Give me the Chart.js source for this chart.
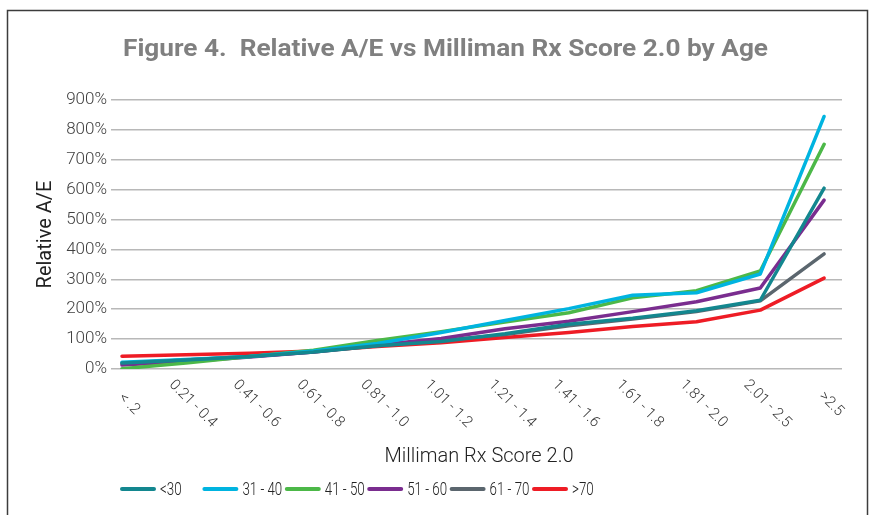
<!DOCTYPE html>
<html>
  <head>
    <title>Relative A/E vs Milliman Rx Score 2.0 by Age</title>
    <script src="https://cdn.jsdelivr.net/npm/chart.js@4.4.1/dist/chart.umd.min.js"></script>
    <style>
      html, body {
        margin: 0;
        padding: 0;
        background: #ffffff;
      }
      #wrap {
        position: relative;
        width: 873px;
        height: 515px;
      }
    </style>
  </head>
  <body>
    <div id="wrap">
      <canvas id="chart" width="873" height="515"></canvas>
    </div>

    <script>
      const categories = [
        "< .2", "0.21 - 0.4", "0.41 - 0.6", "0.61 - 0.8", "0.81 - 1.0", "1.01 - 1.2",
        "1.21 - 1.4", "1.41 - 1.6", "1.61 - 1.8", "1.81 - 2.0", "2.01 - 2.5", ">2.5"
      ];
      const seriesNames = ["<30", "31 - 40", "41 - 50", "51 - 60", "61 - 70", ">70"];
      const seriesColors = ["#13878f", "#00b4e0", "#4cb848", "#7a2d8f", "#5b666e", "#ee1c25"];

      const under30 = [20, 30, 42, 57, 78, 92, 118, 150, 170, 195, 230, 605];
      const age31to40 = [23, 32, 42, 60, 85, 122, 162, 202, 247, 255, 318, 845];
      const age41to50 = [1, 20, 42, 63, 95, 125, 157, 188, 238, 262, 328, 752];
      const age51to60 = [13, 25, 40, 57, 80, 102, 135, 160, 192, 225, 271, 565];
      const age61to70 = [18, 30, 42, 57, 78, 95, 115, 145, 167, 192, 228, 385];
      const over70 = [43, 48, 53, 60, 75, 88, 105, 122, 142, 158, 197, 304];

      const yTicks = [0, 100, 200, 300, 400, 500, 600, 700, 800, 900];

      const allSeries = [under30, age31to40, age41to50, age51to60, age61to70, over70];

      const datasets = allSeries.map((values, i) => ({
        label: seriesNames[i],
        data: values.map((v, j) => ({ x: j, y: v })),
        borderColor: seriesColors[i],
        backgroundColor: seriesColors[i],
        borderWidth: 3.5,
        pointRadius: 0,
        tension: 0,
        borderJoinStyle: "round",
        borderCapStyle: "round",
      }));

      // frame, title, rotated category labels and legend
      const extras = {
        id: "extras",
        beforeDraw(chart) {
          const ctx = chart.ctx;
          ctx.save();
          ctx.strokeStyle = "#3c3c3c";
          ctx.lineWidth = 1.5;
          ctx.strokeRect(7.5, 10.5, 860, 530);
          ctx.restore();
        },
        afterDraw(chart) {
          const ctx = chart.ctx;
          const xScale = chart.scales.x;

          // title, squeezed to the condensed width of the original
          ctx.save();
          ctx.font = "bold 24px Roboto";
          ctx.fillStyle = "#808080";
          ctx.textBaseline = "middle";
          const title = "Figure 4.  Relative A/E vs Milliman Rx Score 2.0 by Age";
          const w = ctx.measureText(title).width;
          const sx = 645 / w;
          ctx.translate(123, 50);
          ctx.scale(sx, 1);
          ctx.fillText(title, 0, 0);
          ctx.restore();

          // category labels going down to the right
          ctx.save();
          ctx.font = "300 15px Roboto";
          ctx.fillStyle = "#333333";
          ctx.textAlign = "center";
          ctx.textBaseline = "middle";
          categories.forEach((c, i) => {
            const x = xScale.getPixelForValue(i) + 7;
            ctx.save();
            ctx.translate(x, 404);
            ctx.rotate(Math.PI / 4);
            ctx.fillText(c, 0, 0);
            ctx.restore();
          });
          ctx.restore();

          // legend
          ctx.save();
          ctx.font = "300 18px Roboto";
          ctx.textBaseline = "middle";
          chart.data.datasets.forEach((ds, i) => {
            const x0 = 122 + i * 82.4;
            const y = 489;
            ctx.strokeStyle = ds.borderColor;
            ctx.lineWidth = 4;
            ctx.lineCap = "round";
            ctx.beginPath();
            ctx.moveTo(x0, y);
            ctx.lineTo(x0 + 32, y);
            ctx.stroke();
            ctx.fillStyle = "#222222";
            ctx.save();
            ctx.translate(x0 + 38, y + 1);
            ctx.scale(0.74, 1);
            ctx.fillText(ds.label, 0, 0);
            ctx.restore();
          });
          ctx.restore();
        },
      };

      new Chart("chart", {
        type: "line",
        data: { datasets: datasets },
        options: {
          responsive: false,
          animation: false,
          layout: {
            padding: { top: 100, left: 20, right: 31, bottom: 46 },
          },
          plugins: {
            legend: { display: false },
            title: { display: false },
            tooltip: { enabled: false },
          },
          scales: {
            x: {
              type: "linear",
              min: -0.094,
              max: 11.28,
              grid: { display: false },
              border: { display: false },
              ticks: { display: false },
              title: {
                display: true,
                text: "Milliman Rx Score 2.0",
                color: "#222222",
                font: { family: "Roboto", size: 20, weight: "300" },
                padding: { top: 0, bottom: 0 },
              },
              afterFit(scale) {
                scale.height = 100;
              },
            },
            y: {
              min: 0,
              max: 900,
              afterBuildTicks(scale) {
                scale.ticks = yTicks.map((v) => ({ value: v }));
              },
              grid: {
                color: "#b8b8b8",
                lineWidth: 1.5,
                tickLength: 5,
                drawTicks: true,
              },
              border: { display: false },
              ticks: {
                padding: 4,
                color: "#404040",
                font: { family: "Roboto", size: 17, weight: "300" },
                callback: (v) => v + "%",
              },
              title: {
                display: true,
                text: "Relative A/E",
                color: "#222222",
                font: { family: "Roboto", size: 20 },
                padding: { top: 14, bottom: 0 },
              },
              afterFit(scale) {
                scale.width = 96;
              },
            },
          },
        },
        plugins: [extras],
      });
    </script>
  </body>
</html>
